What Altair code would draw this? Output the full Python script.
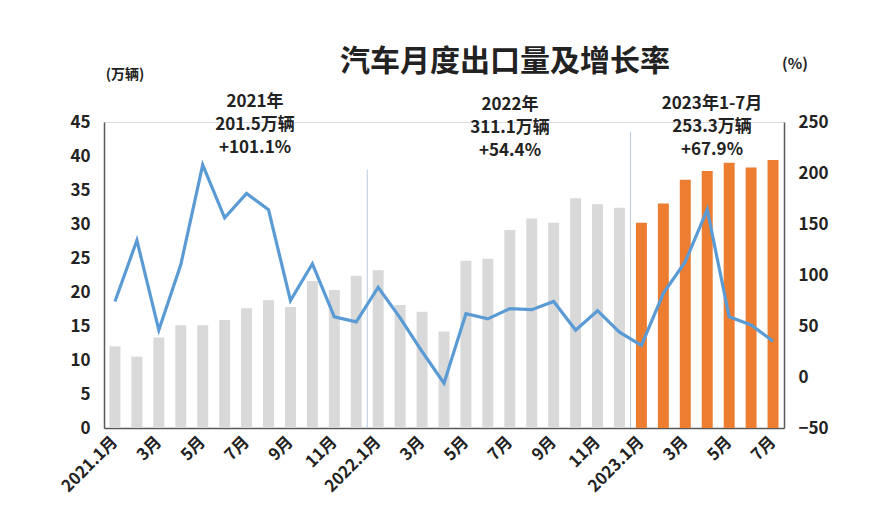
import altair as alt
import pandas as pd

FONT = "Noto Sans CJK SC"
TXT = "#222222"

month_labels = ["2021.1月", "", "3月", "", "5月", "", "7月", "", "9月", "", "11月", "",
                "2022.1月", "", "3月", "", "5月", "", "7月", "", "9月", "", "11月", "",
                "2023.1月", "", "3月", "", "5月", "", "7月"]
years = ["2021"] * 12 + ["2022"] * 12 + ["2023"] * 7
exports = [12.0, 10.5, 13.3, 15.1, 15.1, 15.9, 17.6, 18.8, 17.8, 21.6, 20.3, 22.4,
           23.2, 18.1, 17.1, 14.2, 24.6, 24.9, 29.1, 30.8, 30.2, 33.8, 32.9, 32.4,
           30.2, 33.0, 36.5, 37.8, 39.0, 38.3, 39.4]
growth = [74, 134, 46, 110, 208, 156, 180, 164, 75, 111, 59, 54,
          88, 58, 25, -6, 62, 57, 67, 66, 74, 46, 65, 44,
          31, 82, 113, 164, 59, 51, 35]

sep_after = [11, 23]
sep_top = [38.0, 43.5]

annot_text = ["2021年\n201.5万辆\n+101.1%", "2022年\n311.1万辆\n+54.4%", "2023年1-7月\n253.3万辆\n+67.9%"]

df = pd.DataFrame({"idx": list(range(len(exports))), "exports": exports,
                   "growth": growth, "year": years})
sep_df = pd.DataFrame({"idx": sep_after, "top": sep_top, "bottom": [0, 0]})

W, H = 680, 306

label_expr = "[" + ",".join(f"'{l}'" for l in month_labels) + "][datum.value]"

x_enc = alt.X("idx:O",
              scale=alt.Scale(paddingInner=0.5, paddingOuter=0.25),
              axis=alt.Axis(title=None, labelExpr=label_expr, labelAngle=315,
                            labelAlign="right", labelBaseline="middle",
                            labelFont=FONT, labelFontSize=16.5, labelFontWeight="bold",
                            labelColor=TXT, labelPadding=11, ticks=False,
                            labelOverlap=False, domainColor="#595959", domainWidth=1.5))

left_axis = alt.Axis(title=None, values=list(range(0, 50, 5)), orient="left", grid=False,
                     ticks=False, domainColor="#595959", domainWidth=1.5,
                     labelFont=FONT, labelFontSize=17, labelFontWeight="bold",
                     labelColor=TXT, labelPadding=14)
left_scale = alt.Scale(domain=[0, 45], nice=False, zero=False)

bars = alt.Chart(df).mark_bar().encode(
    x=x_enc,
    y=alt.Y("exports:Q", scale=left_scale, axis=left_axis),
    color=alt.Color("year:N",
                    scale=alt.Scale(domain=["2021", "2022", "2023"],
                                    range=["#d9d9d9", "#d9d9d9", "#ed7d31"]),
                    legend=None),
)

rules = alt.Chart(sep_df).mark_rule(color="#b8c9e3", strokeWidth=1, xOffset=5.5).encode(
    x=alt.X("idx:O", bandPosition=1),
    y=alt.Y("top:Q", scale=left_scale, axis=left_axis),
    y2="bottom:Q",
)

line = alt.Chart(df).mark_line(color="#5b9bd5", strokeWidth=3.2).encode(
    x=x_enc,
    y=alt.Y("growth:Q", scale=alt.Scale(domain=[-50, 250], nice=False, zero=False),
            axis=alt.Axis(title=None, orient="right", values=list(range(-50, 300, 50)),
                          grid=False, ticks=False, domainColor="#595959", domainWidth=1.5,
                          labelFont=FONT, labelFontSize=17, labelFontWeight="bold",
                          labelColor=TXT, labelPadding=14)),
)

ann_df = pd.DataFrame({"t": annot_text})
ann_layers = []
ann_pos = [(151, -15), (406, -12), (608, -13)]
for i, (px, py) in enumerate(ann_pos):
    ann_layers.append(
        alt.Chart(ann_df.iloc[[i]]).mark_text(
            font=FONT, fontSize=17, fontWeight="bold", color=TXT, align="center",
            baseline="alphabetic", lineBreak="\n", lineHeight=23
        ).encode(text="t:N", x=alt.value(px), y=alt.value(py))
    )

title_df = pd.DataFrame({"t": ["汽车月度出口量及增长率"]})
title = alt.Chart(title_df).mark_text(
    font=FONT, fontSize=30, fontWeight="bold", color=TXT, align="center", baseline="middle"
).encode(text="t:N", x=alt.value(401), y=alt.value(-60))

unit_df = pd.DataFrame({"t": ["(万辆)"]})
unit_left = alt.Chart(unit_df).mark_text(
    font=FONT, fontSize=14, fontWeight="bold", color=TXT, align="center", baseline="middle"
).encode(text="t:N", x=alt.value(21), y=alt.value(-47))

unit2_df = pd.DataFrame({"t": ["(%)"]})
unit_right = alt.Chart(unit2_df).mark_text(
    font=FONT, fontSize=15, fontWeight="bold", color=TXT, align="center", baseline="middle"
).encode(text="t:N", x=alt.value(691), y=alt.value(-58))

left = alt.layer(bars, rules)
chart = alt.layer(left, line, title, unit_left, unit_right, *ann_layers).resolve_scale(
    y="independent"
).properties(
    width=W, height=H,
    autosize=alt.AutoSizeParams(type="none"),
    padding={"left": 96, "top": 114, "right": 80, "bottom": 90},
).configure_view(stroke=None).configure(background="white")

chart.save("out.html", embed_options={"renderer": "svg", "actions": False})
